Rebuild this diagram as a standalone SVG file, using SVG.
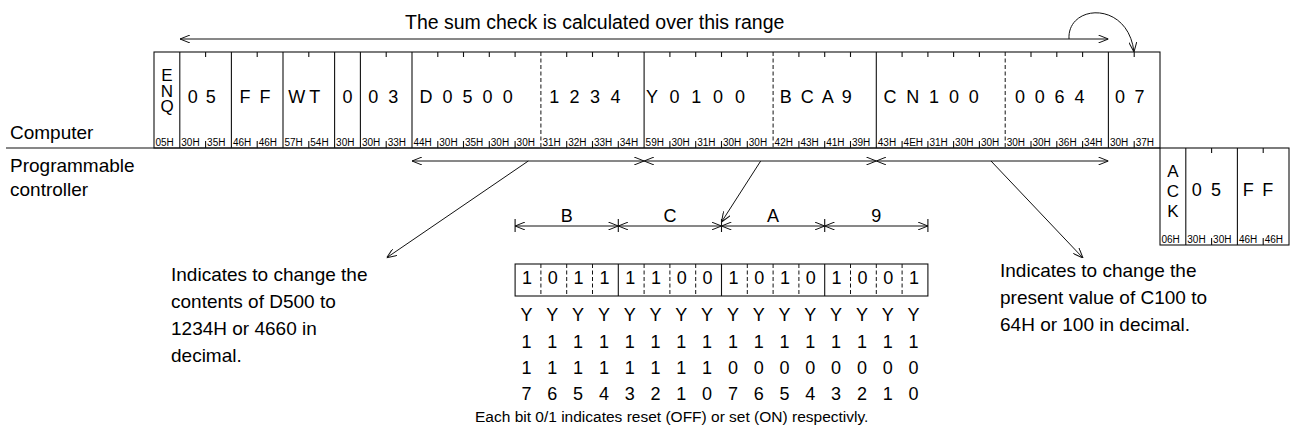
<svg xmlns="http://www.w3.org/2000/svg" width="1295" height="444" viewBox="0 0 1295 444">
<defs>
<style>
text{font-family:"Liberation Sans",Arial,sans-serif;fill:#000}
.lbl{font-size:19px}
.fld{font-size:18px}
.hx{font-size:10px}
.vt{font-size:17px;writing-mode:vertical-rl;text-orientation:upright}
.ln{stroke:#111;stroke-width:1.1;fill:none}
.ds{stroke:#111;stroke-width:1;fill:none;stroke-dasharray:4 2.5}
.ar{stroke:#111;stroke-width:1;fill:none;marker-start:url(#ah);marker-end:url(#ah)}
.a1{stroke:#111;stroke-width:1;fill:none;marker-end:url(#ah)}
</style>
<marker id="ah" viewBox="0 0 10 8" refX="10" refY="4" markerWidth="10" markerHeight="8" markerUnits="userSpaceOnUse" orient="auto-start-reverse"><path d="M0,0 L10,4 L0,8" fill="none" stroke="#111" stroke-width="1"/></marker>
</defs>
<rect width="1295" height="444" fill="#fff"/>

<g id="title"><text class="lbl" x="405" y="29" style="font-size:19.5px">The sum check is calculated over this range</text></g>

<g id="side-labels">
<text class="lbl" x="10" y="138.5">Computer</text>
<text class="lbl" x="10" y="172">Programmable</text>
<text class="lbl" x="10" y="196">controller</text>
<line class="ln" x1="6" y1="148" x2="1160" y2="148"/>
</g>

<g id="computer-frame">
<rect class="ln" x="154" y="52" width="1006" height="96"/>
<path class="ln" d="M179.8,52V148M231.4,52V148M283,52V148M334.6,52V148M360.4,52V148M412,52V148M644.1,52V148M876.3,52V148M1108.4,52V148"/>
<path class="ds" d="M540.9,52V148M773.1,52V148M1005.2,52V148"/>
<path class="ln" d="M205.6,52v5M257.2,52v5M308.8,52v5M386.2,52v5M437.8,52v5M463.5,52v5M489.3,52v5M515.1,52v5M566.7,52v5M592.5,52v5M618.3,52v5M669.9,52v5M695.7,52v5M721.5,52v5M747.3,52v5M798.9,52v5M824.7,52v5M850.5,52v5M902.1,52v5M927.9,52v5M953.6,52v5M979.4,52v5M1031,52v5M1056.8,52v5M1082.6,52v5M1134.2,52v5"/>
<path class="ln" d="M205.6,141v7M257.2,141v7M308.8,141v7M386.2,141v7M437.8,141v7M463.5,141v7M489.3,141v7M515.1,141v7M566.7,141v7M592.5,141v7M618.3,141v7M669.9,141v7M695.7,141v7M721.5,141v7M747.3,141v7M798.9,141v7M824.7,141v7M850.5,141v7M902.1,141v7M927.9,141v7M953.6,141v7M979.4,141v7M1031,141v7M1056.8,141v7M1082.6,141v7M1134.2,141v7"/>
<text class="vt" x="167" y="66" letter-spacing="-3.5">ENQ</text>
<text class="fld" x="187.8" y="103" letter-spacing="1.5">0 5</text>
<text class="fld" x="239.4" y="103" letter-spacing="2">F F</text>
<text class="fld" x="288.2" y="103" letter-spacing="4">WT</text>
<text class="fld" x="347.5" y="103" text-anchor="middle">0</text>
<text class="fld" x="368.3" y="103" letter-spacing="2.5">0 3</text>
<text class="fld" x="419.6" y="103" letter-spacing="2.5">D 0 5 0 0</text>
<text class="fld" x="549.2" y="103" letter-spacing="2.7">1 2 3 4</text>
<text class="fld" x="646" y="103" letter-spacing="3.4">Y 0 1 0 0</text>
<text class="fld" x="779.7" y="103" letter-spacing="2">B C A 9</text>
<text class="fld" x="883.5" y="103" letter-spacing="2.4">C N 1 0 0</text>
<text class="fld" x="1015" y="103" letter-spacing="2.4">0 0 6 4</text>
<text class="fld" x="1115" y="103" letter-spacing="2.2">0 7</text>
<g class="hx">
<text class="hx" x="155.5" y="146">05H</text>
<text class="hx" x="181.3" y="146">30H</text>
<text class="hx" x="207.1" y="146">35H</text>
<text class="hx" x="232.9" y="146">46H</text>
<text class="hx" x="258.7" y="146">46H</text>
<text class="hx" x="284.5" y="146">57H</text>
<text class="hx" x="310.3" y="146">54H</text>
<text class="hx" x="336.1" y="146">30H</text>
<text class="hx" x="361.9" y="146">30H</text>
<text class="hx" x="387.7" y="146">33H</text>
<text class="hx" x="413.5" y="146">44H</text>
<text class="hx" x="439.3" y="146">30H</text>
<text class="hx" x="465" y="146">35H</text>
<text class="hx" x="490.8" y="146">30H</text>
<text class="hx" x="516.6" y="146">30H</text>
<text class="hx" x="542.4" y="146">31H</text>
<text class="hx" x="568.2" y="146">32H</text>
<text class="hx" x="594" y="146">33H</text>
<text class="hx" x="619.8" y="146">34H</text>
<text class="hx" x="645.6" y="146">59H</text>
<text class="hx" x="671.4" y="146">30H</text>
<text class="hx" x="697.2" y="146">31H</text>
<text class="hx" x="723" y="146">30H</text>
<text class="hx" x="748.8" y="146">30H</text>
<text class="hx" x="774.6" y="146">42H</text>
<text class="hx" x="800.4" y="146">43H</text>
<text class="hx" x="826.2" y="146">41H</text>
<text class="hx" x="852" y="146">39H</text>
<text class="hx" x="877.8" y="146">43H</text>
<text class="hx" x="903.6" y="146">4EH</text>
<text class="hx" x="929.4" y="146">31H</text>
<text class="hx" x="955.1" y="146">30H</text>
<text class="hx" x="980.9" y="146">30H</text>
<text class="hx" x="1006.7" y="146">30H</text>
<text class="hx" x="1032.5" y="146">30H</text>
<text class="hx" x="1058.3" y="146">36H</text>
<text class="hx" x="1084.1" y="146">34H</text>
<text class="hx" x="1109.9" y="146">30H</text>
<text class="hx" x="1135.7" y="146">37H</text>
</g>
</g>

<g id="ack-frame">
<rect class="ln" x="1160" y="148" width="129" height="97"/>
<path class="ln" d="M1185.8,148V245M1237.4,148V245M1211.6,148v5M1263.2,148v5M1211.6,238v7M1263.2,238v7"/>
<text class="vt" x="1173" y="162" letter-spacing="1">ACK</text>
<text class="fld" x="1191.7" y="196" letter-spacing="2.2">0 5</text>
<text class="fld" x="1242.8" y="196" letter-spacing="1.7">F F</text>
<text class="hx" x="1161.5" y="243">06H</text>
<text class="hx" x="1187.3" y="243">30H</text>
<text class="hx" x="1213.1" y="243">30H</text>
<text class="hx" x="1238.9" y="243">46H</text>
<text class="hx" x="1264.7" y="243">46H</text>
</g>

<g id="bit-ruler">
<path class="ln" d="M515.1,219V232M618.3,219V232M721.5,219V232M824.7,219V232M927.9,219V232"/>
<text class="fld" text-anchor="middle" y="222"><tspan x="566.7">B</tspan><tspan x="669.9">C</tspan><tspan x="773.1">A</tspan><tspan x="876.3">9</tspan></text>
</g>

<g id="bit-box">
<rect class="ln" x="515.1" y="264" width="412.8" height="32"/>
<path class="ln" d="M618.3,264V296M721.5,264V296M824.7,264V296"/>
<path class="ds" d="M540.9,264V296M566.7,264V296M592.5,264V296M644.1,264V296M669.9,264V296M695.7,264V296M747.3,264V296M773.1,264V296M798.9,264V296M850.5,264V296M876.3,264V296M902.1,264V296"/>
<text class="fld" text-anchor="middle" y="284"><tspan x="527">1</tspan><tspan x="552.8">0</tspan><tspan x="578.6">1</tspan><tspan x="604.4">1</tspan><tspan x="630.2">1</tspan><tspan x="656">1</tspan><tspan x="681.8">0</tspan><tspan x="707.6">0</tspan><tspan x="733.4">1</tspan><tspan x="759.2">0</tspan><tspan x="785">1</tspan><tspan x="810.8">0</tspan><tspan x="836.6">1</tspan><tspan x="862.4">0</tspan><tspan x="888.2">0</tspan><tspan x="914">1</tspan></text>
</g>

<g id="bit-numbers" class="fld">
<text class="fld" text-anchor="middle" y="321"><tspan x="526.5">Y</tspan><tspan x="552.3">Y</tspan><tspan x="578.1">Y</tspan><tspan x="603.9">Y</tspan><tspan x="629.7">Y</tspan><tspan x="655.5">Y</tspan><tspan x="681.3">Y</tspan><tspan x="707.1">Y</tspan><tspan x="732.9">Y</tspan><tspan x="758.7">Y</tspan><tspan x="784.5">Y</tspan><tspan x="810.3">Y</tspan><tspan x="836.1">Y</tspan><tspan x="861.9">Y</tspan><tspan x="887.7">Y</tspan><tspan x="913.5">Y</tspan></text>
<text class="fld" text-anchor="middle" y="348"><tspan x="526.5">1</tspan><tspan x="552.3">1</tspan><tspan x="578.1">1</tspan><tspan x="603.9">1</tspan><tspan x="629.7">1</tspan><tspan x="655.5">1</tspan><tspan x="681.3">1</tspan><tspan x="707.1">1</tspan><tspan x="732.9">1</tspan><tspan x="758.7">1</tspan><tspan x="784.5">1</tspan><tspan x="810.3">1</tspan><tspan x="836.1">1</tspan><tspan x="861.9">1</tspan><tspan x="887.7">1</tspan><tspan x="913.5">1</tspan></text>
<text class="fld" text-anchor="middle" y="374"><tspan x="526.5">1</tspan><tspan x="552.3">1</tspan><tspan x="578.1">1</tspan><tspan x="603.9">1</tspan><tspan x="629.7">1</tspan><tspan x="655.5">1</tspan><tspan x="681.3">1</tspan><tspan x="707.1">1</tspan><tspan x="732.9">0</tspan><tspan x="758.7">0</tspan><tspan x="784.5">0</tspan><tspan x="810.3">0</tspan><tspan x="836.1">0</tspan><tspan x="861.9">0</tspan><tspan x="887.7">0</tspan><tspan x="913.5">0</tspan></text>
<text class="fld" text-anchor="middle" y="400"><tspan x="526.5">7</tspan><tspan x="552.3">6</tspan><tspan x="578.1">5</tspan><tspan x="603.9">4</tspan><tspan x="629.7">3</tspan><tspan x="655.5">2</tspan><tspan x="681.3">1</tspan><tspan x="707.1">0</tspan><tspan x="732.9">7</tspan><tspan x="758.7">6</tspan><tspan x="784.5">5</tspan><tspan x="810.3">4</tspan><tspan x="836.1">3</tspan><tspan x="861.9">2</tspan><tspan x="887.7">1</tspan><tspan x="913.5">0</tspan></text>
</g>

<g id="note-left">
<text class="lbl"><tspan x="171" y="281">Indicates to change the</tspan><tspan x="171" y="308">contents of D500 to</tspan><tspan x="171" y="335">1234H or 4660 in</tspan><tspan x="171" y="362">decimal.</tspan></text>
</g>
<g id="note-right">
<text class="lbl"><tspan x="1000" y="277">Indicates to change the</tspan><tspan x="1000" y="304">present value of C100 to</tspan><tspan x="1000" y="331">64H or 100 in decimal.</tspan></text>
</g>
<g id="caption">
<text x="475" y="422" style="font-size:15.5px">Each bit 0/1 indicates reset (OFF) or set (ON) respectivly.</text>
</g>

<g id="connectors">
<line class="ar" x1="180" y1="39" x2="1108.4" y2="39"/>
<path class="a1" d="M1069,39 C1067,4 1128,0 1134,52"/>
<line class="ar" x1="412" y1="161" x2="644.1" y2="161"/>
<line class="ar" x1="644.1" y1="161" x2="876.3" y2="161"/>
<line class="ar" x1="876.3" y1="161" x2="1108.4" y2="161"/>
<line class="a1" x1="528.3" y1="161" x2="386.7" y2="257.7"/>
<line class="a1" x1="760.7" y1="161" x2="721.5" y2="222"/>
<line class="a1" x1="991" y1="161" x2="1083" y2="258"/>
<line class="ar" x1="515.1" y1="226" x2="618.3" y2="226"/>
<line class="ar" x1="618.3" y1="226" x2="721.5" y2="226"/>
<line class="ar" x1="721.5" y1="226" x2="824.7" y2="226"/>
<line class="ar" x1="824.7" y1="226" x2="927.9" y2="226"/>
</g>
</svg>
